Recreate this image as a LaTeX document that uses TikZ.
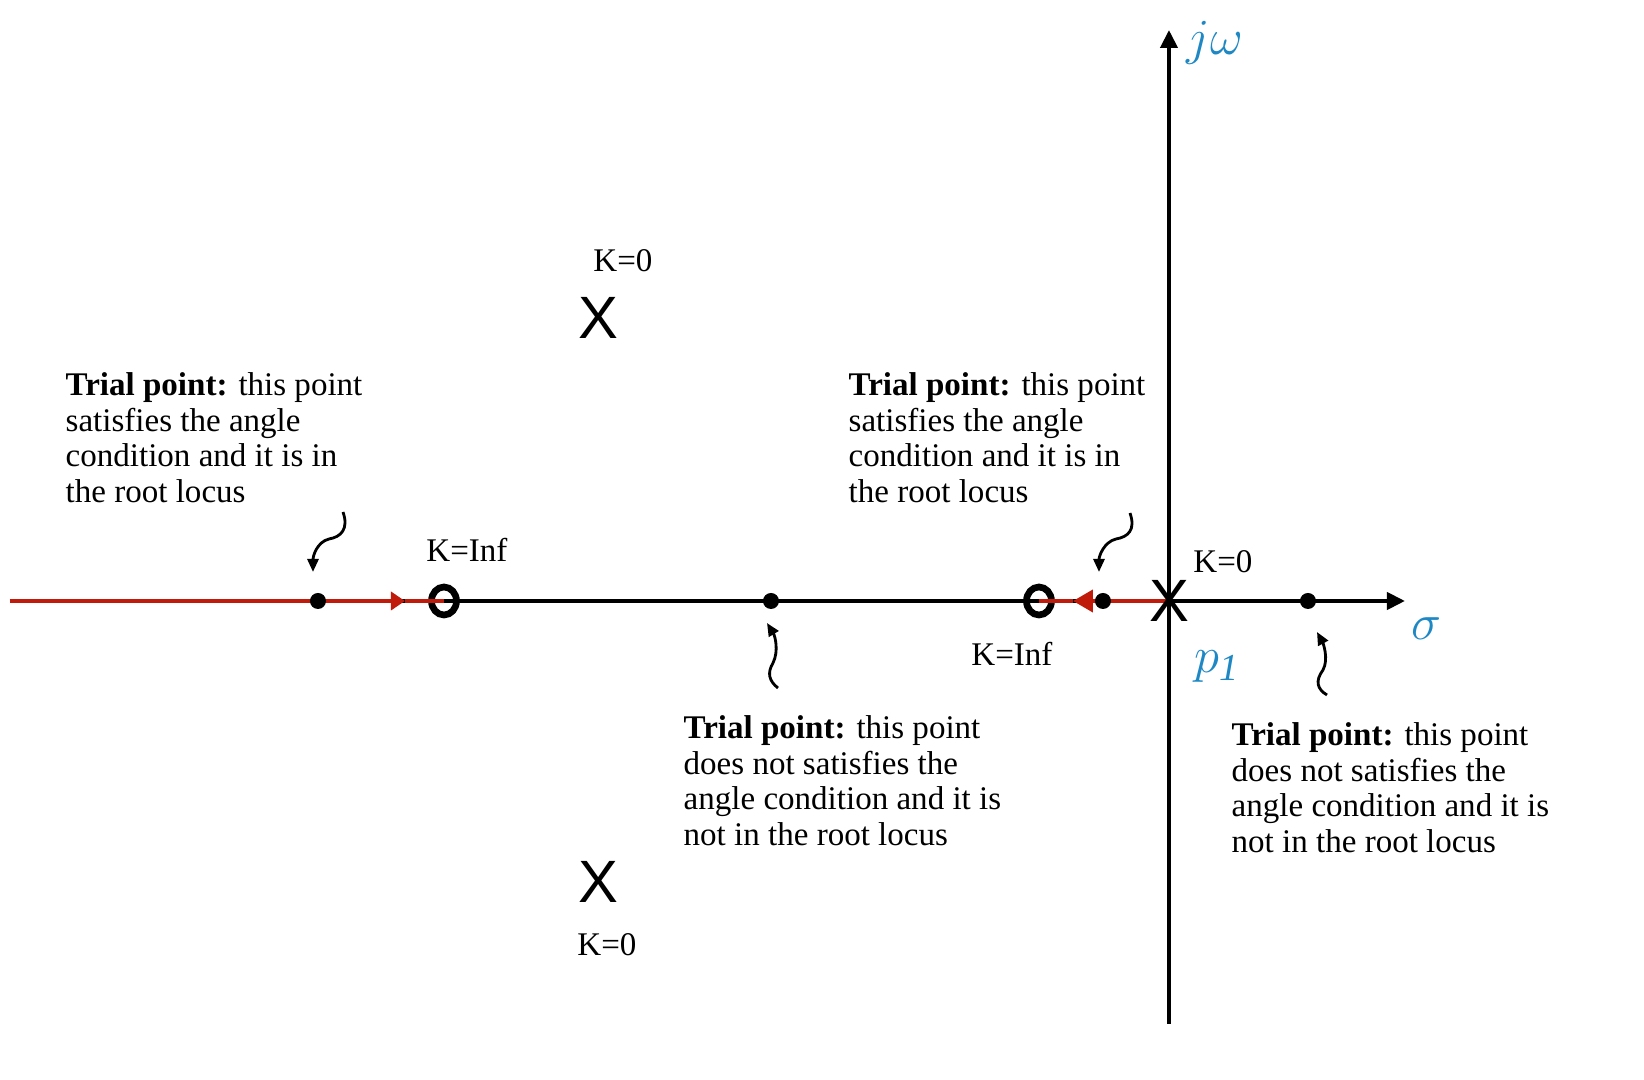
\documentclass[tikz,border=0pt]{standalone}
\usepackage{fontspec}
\setmainfont{Liberation Serif}
\newfontfamily\polefont{Liberation Sans}
\usetikzlibrary{arrows.meta, shapes.geometric}
\definecolor{locusred}{RGB}{192, 26, 11}
\definecolor{axisblue}{RGB}{30, 136, 196}

\tikzset{
  axis/.style={line width=1.15pt, -{Triangle[length=0.18cm, width=0.17cm]}},
  locus/.style={line width=1.15pt, locusred},
  pole/.style={font=\polefont\fontsize{17}{17}\selectfont, inner sep=0pt},
  zero/.style={draw, ellipse, line width=1.9pt, minimum width=0.25cm, minimum height=0.28cm, inner sep=0pt},
  trial/.style={circle, fill, inner sep=0pt, minimum size=0.16cm},
  hint/.style={line width=0.8pt, -{Triangle[length=0.13cm, width=0.11cm]}},
  note/.style={align=left, inner sep=0pt, anchor=north west, font=\fontsize{9.4}{10.1}\selectfont},
  gain/.style={inner sep=0pt, font=\fontsize{9.4}{11}\selectfont},
  axislabel/.style={inner sep=0pt, text=axisblue, font=\fontsize{15.5}{17}\selectfont}
}

\begin{document}
\begin{tikzpicture}
  \useasboundingbox (-11.69, -4.79) rectangle (4.75, 6.01);

  % Axes
  \coordinate (o) at (0, 0);
  \coordinate (xl) at (-11.59, 0);
  \coordinate (xr) at (2.36, 0);
  \coordinate (yb) at (0, -4.23);
  \coordinate (yt) at (0, 5.71);
  \draw[axis] (xl) -- (xr);
  \draw[axis] (yb) -- (yt);
  \node[axislabel] (jw) at (0.46, 5.58) {$j\omega$};
  \node[axislabel] (sig) at (2.58, -0.28) {$\sigma$};
  \node[axislabel] (p1) at (0.48, -0.66) {$p_{\mathit{1}}$};

  % Zeros
  \node[zero] (z1) at (-7.25, 0) {};
  \node[zero] (z2) at (-1.30, 0) {};

  % Root locus on the real axis
  \coordinate (a1) at (-7.64, 0);
  \coordinate (a2) at (-0.96, 0);
  \draw[locus, -{Triangle[length=0.14cm, width=0.18cm]}] (xl) -- (a1);
  \draw[locus] (a1) -- (z1.center);
  \draw[locus, -{Triangle[length=0.2cm, width=0.22cm]}] (o) -- (a2);
  \draw[locus] (a2) -- (z2.center);

  % Poles
  \node[pole] (pa) at (-5.71, 2.83) {X};
  \node[pole] (pb) at (-5.71, -2.81) {X};
  \node[pole] (pc) at (0, 0) {X};

  % Gains
  \node[gain] (ka) at (-5.46, 3.40) {K=0};
  \node[gain] (kb) at (-5.62, -3.44) {K=0};
  \node[gain] (kc) at (0.54, 0.39) {K=0};
  \node[gain] (kz1) at (-7.02, 0.51) {K=Inf};
  \node[gain] (kz2) at (-1.57, -0.53) {K=Inf};

  % Trial points
  \node[trial] (t1) at (-8.51, 0) {};
  \node[trial] (t2) at (-3.98, 0) {};
  \node[trial] (t3) at (-0.66, 0) {};
  \node[trial] (t4) at (1.39, 0) {};

  % Hints
  \coordinate (h1s) at (-8.26, 0.89);
  \coordinate (h1e) at (-8.56, 0.29);
  \coordinate (h2s) at (-3.91, -0.87);
  \coordinate (h2e) at (-4.02, -0.22);
  \coordinate (h3s) at (-0.39, 0.88);
  \coordinate (h3e) at (-0.70, 0.29);
  \coordinate (h4s) at (1.58, -0.94);
  \coordinate (h4e) at (1.48, -0.31);
  \draw[hint] (h1s) .. controls ++(0.06, -0.17) and ++(0.12, 0.02) .. (-8.40, 0.62) .. controls ++(-0.12, -0.03) and ++(0, 0.16) .. (h1e);
  \draw[hint] (h2s) .. controls ++(-0.09, 0.07) and ++(-0.06, -0.10) .. (-3.96, -0.62) .. controls ++(0.06, 0.12) and ++(0.08, -0.13) .. (h2e);
  \draw[hint] (h3s) .. controls ++(0.06, -0.17) and ++(0.12, 0.02) .. (-0.53, 0.62) .. controls ++(-0.12, -0.03) and ++(0, 0.16) .. (h3e);
  \draw[hint] (h4s) .. controls ++(-0.10, 0.06) and ++(-0.08, -0.11) .. (1.54, -0.69) .. controls ++(0.06, 0.11) and ++(0.06, -0.11) .. (h4e);

  % Notes
  \node[note] (n1) at (-11.04, 2.29) {\textbf{Trial point:} this point\\satisfies the angle\\condition and it is in\\the root locus};
  \node[note] (n2) at (-3.21, 2.29) {\textbf{Trial point:} this point\\satisfies the angle\\condition and it is in\\the root locus};
  \node[note] (n3) at (-4.86, -1.14) {\textbf{Trial point:} this point\\does not satisfies the\\angle condition and it is\\not in the root locus};
  \node[note] (n4) at (0.62, -1.21) {\textbf{Trial point:} this point\\does not satisfies the\\angle condition and it is\\not in the root locus};
\end{tikzpicture}
\end{document}
